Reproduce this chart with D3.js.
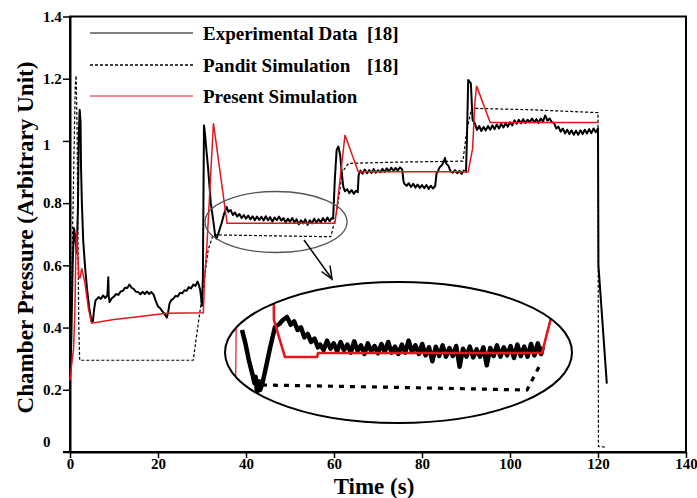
<!DOCTYPE html>
<html><head><meta charset="utf-8">
<script src="https://cdn.jsdelivr.net/npm/d3@7"></script>
<style>html,body{margin:0;padding:0;background:#fff}svg{display:block}</style>
</head><body><svg id="c" width="697" height="498"></svg>
<script>
const xTicks=[0,20,40,60,80,100,120,140];
const yTicks=[0,0.2,0.4,0.6,0.8,1,1.2,1.4];
const yTickLabels=["0","0.2","0.4","0.6","0.8","1","1.2","1.4"];
const legendLabels=["Experimental Data","Pandit Simulation","Present Simulation"];
const legendRefs=["[18]","[18]",""];
const xTitle="Time (s)";
const yTitle="Chamber Pressure (Arbitrary Unit)";

const experimental=[
[0,0.24],[0.3,0.36],[0.6,0.6],[0.9,0.72],[1.2,0.69],[1.5,0.64],[1.8,0.78],[2.0,1.02],[2.2,1.1],[2.4,1.06],[2.5,0.92],[2.7,0.8],[3.0,0.68],[3.4,0.6],[3.9,0.52],[4.4,0.46],[4.9,0.42],[5.2,0.42],[5.5,0.46],[5.8,0.488],
[6.0,0.490],[6.5,0.498],[7.0,0.492],[7.5,0.503],[8.0,0.495],[8.5,0.504],[8.7,0.562],[8.8,0.500],[9.0,0.482],[9.5,0.494],[10.0,0.500],[10.5,0.508],[11.0,0.505],[11.5,0.516],[12.0,0.518],[12.5,0.528],[13.0,0.527],[13.5,0.538],[14.0,0.528],[14.5,0.524],[15.0,0.515],[15.5,0.514],[16.0,0.507],[16.5,0.515],[17.0,0.508],[17.5,0.516],[18.0,0.508],[18.5,0.514],[19.0,0.506],[19.5,0.485],[20.0,0.468],[20.5,0.462],[21.0,0.452],[21.5,0.444],[22.0,0.432],[22.3,0.448],[22.6,0.476],[23.0,0.488],[23.5,0.493],[24.0,0.502],[24.5,0.500],[25.0,0.512],[25.5,0.510],[26.0,0.520],[26.5,0.518],[27.0,0.530],[27.5,0.526],[28.0,0.538],[28.5,0.534],[29.0,0.548],[29.3,0.536],[29.6,0.52],[30.0,0.47],
[30.2,0.56],[30.45,1.05],[30.7,1.02],[31.0,0.97],[31.4,0.91],[32.0,0.80],[32.6,0.74],[33.0,0.695],[33.3,0.686],[33.8,0.706],[34.5,0.738],[35.0,0.765],[35.6,0.788],
[36.0,0.772],[36.5,0.778],[37.0,0.762],[37.5,0.770],[38.0,0.757],[38.5,0.765],[39.0,0.752],[39.5,0.762],[40.0,0.750],[40.5,0.760],[41.0,0.748],[41.5,0.758],[42.0,0.745],[42.5,0.757],[43.0,0.746],[43.5,0.756],[44.0,0.744],[44.5,0.758],[45.0,0.745],[45.5,0.755],[46.0,0.740],[46.5,0.754],[47.0,0.745],[47.5,0.757],[48.0,0.744],[48.5,0.752],[49.0,0.738],[49.5,0.750],[50.0,0.740],[50.5,0.752],[51.0,0.738],[51.5,0.748],[52.0,0.732],[52.5,0.745],[53.0,0.735],[53.5,0.748],[54.0,0.730],[54.5,0.745],[55.0,0.735],[55.5,0.750],[56.0,0.737],[56.5,0.748],[57.0,0.738],[57.5,0.752],[58.0,0.740],[58.5,0.754],[59.0,0.742],[59.5,0.752],[59.8,0.750],
[60.2,0.88],[60.6,0.971],[61.0,0.982],[61.4,0.955],[61.75,0.90],[62.1,0.853],[62.5,0.838],[63.0,0.845],[63.5,0.832],[64.0,0.842],[64.5,0.830],[65.0,0.840],[65.4,0.835],[65.6,0.89],[66.0,0.905],[66.5,0.895],[67.0,0.908],[67.5,0.896],[68.0,0.906],[68.5,0.897],[69.0,0.910],[69.5,0.898],[70.0,0.906],[70.5,0.899],[71.0,0.910],[71.5,0.900],[72.0,0.912],[72.5,0.902],[73.0,0.914],[73.5,0.904],[74.0,0.913],[74.5,0.905],[75.0,0.915],[75.5,0.908],[75.8,0.870],[76.0,0.862],[76.5,0.856],[77.0,0.864],[77.5,0.852],[78.0,0.862],[78.5,0.850],[79.0,0.860],[79.5,0.849],[80.0,0.858],[80.5,0.848],[81.0,0.858],[81.5,0.846],[82.0,0.856],[82.5,0.847],[83.0,0.855],[83.3,0.895],[83.7,0.905],[84.0,0.915],[84.5,0.922],[85.0,0.935],[85.2,0.945],[85.5,0.928],[86.0,0.920],[86.5,0.902],[87.0,0.898],[87.5,0.906],[88.0,0.896],[88.5,0.904],[89.0,0.894],[89.5,0.905],[90.0,0.900],
[90.2,1.00],[90.5,1.196],[91.1,1.185],[91.5,1.067],[92.0,1.057],[92.5,1.035],[93.0,1.048],[93.5,1.032],[94.0,1.045],[94.5,1.034],[95.0,1.048],[95.5,1.036],[96.0,1.050],[96.5,1.038],[97.0,1.053],[97.5,1.040],[98.0,1.055],[98.5,1.043],[99.0,1.057],[99.5,1.046],[100.0,1.060],[100.5,1.050],[101.0,1.066],[101.5,1.055],[102.0,1.068],[102.5,1.057],[103.0,1.070],[103.5,1.058],[104.0,1.068],[104.5,1.060],[105.0,1.072],[105.5,1.060],[106.0,1.070],[106.5,1.058],[107.0,1.072],[107.5,1.062],[108.0,1.082],[108.5,1.065],[109.0,1.072],[109.5,1.060],[110.0,1.058],[110.5,1.040],[111.0,1.046],[111.5,1.030],[112.0,1.040],[112.5,1.024],[113.0,1.036],[113.5,1.022],[114.0,1.034],[114.5,1.020],[115.0,1.033],[115.5,1.020],[116.0,1.034],[116.5,1.022],[117.0,1.036],[117.5,1.024],[118.0,1.038],[118.5,1.025],[119.0,1.040],[119.5,1.028],[120.0,1.040],[120.1,0.60],[122.0,0.22]
];

const pandit=[
[0,0.25],[0.3,0.45],[0.6,0.72],[0.9,0.95],[1.2,1.18],[1.4,1.21],[1.6,1.05],[1.8,0.7],[2.0,0.4],[2.2,0.295],[28.0,0.295],[30.3,0.53],[31.4,0.65],[32.5,0.698],[59.3,0.692],[60.6,0.77],[61.9,0.9],[63.3,0.928],[75,0.932],[89.3,0.935],[90.2,1.035],[91.3,1.105],[105,1.1],[120.0,1.091],[120.1,0.018],[122,0.015]
];

const present=[
[0,0.23],[0.4,0.285],[0.8,0.33],[1.1,0.446],[1.3,0.62],[1.5,0.71],[1.7,0.66],[2.0,0.56],[2.3,0.56],[2.65,0.59],[3.0,0.57],[3.4,0.543],[4.2,0.46],[4.9,0.414],[10,0.426],[15,0.434],[22,0.446],[30.3,0.448],[30.6,0.56],[31.1,0.66],[32.6,1.057],[35.7,0.735],[60.2,0.735],[60.6,0.778],[62.5,1.019],[65.5,0.901],[90.5,0.901],[91.5,0.975],[92.0,1.12],[92.4,1.177],[95.5,1.059],[120.1,1.059]
];

const insetExperimental=[
[31.5,0.755],[31.8,0.735],[32.1,0.71],[32.4,0.69],[32.6,0.675],[32.7,0.685],[32.82,0.662],[33.0,0.678],[33.1,0.665],[33.3,0.675],[33.5,0.69],[34.0,0.73],[34.41,0.7595],[34.8,0.764],[35.1,0.770],[35.47,0.7745],[35.8,0.763],[36.1,0.768],[36.4,0.755],[36.7,0.759],[37.0,0.744],[37.3,0.749],[37.6,0.737],[37.9,0.742],[38.2,0.729],
[38.4,0.733],[38.7,0.725],[39.0,0.739],[39.3,0.727],[39.6,0.735],[39.9,0.723],[40.2,0.737],[40.5,0.725],[40.8,0.733],[41.1,0.721],[41.4,0.738],[41.7,0.724],[42.0,0.732],[42.3,0.719],[42.6,0.735],[42.9,0.723],[43.2,0.731],[43.5,0.720],[43.8,0.734],[44.1,0.722],[44.4,0.737],[44.7,0.721],[45.0,0.730],[45.3,0.719],[45.6,0.733],[45.9,0.721],[46.2,0.739],[46.5,0.722],[46.8,0.732],[47.1,0.719],[47.4,0.734],[47.7,0.717],[48.0,0.729],[48.3,0.708],[48.6,0.730],[48.9,0.716],[49.2,0.732],[49.5,0.715],[49.8,0.728],[50.1,0.716],[50.4,0.731],[50.7,0.700],[51.0,0.727],[51.3,0.715],[51.6,0.730],[51.9,0.714],[52.2,0.726],[52.5,0.715],[52.8,0.729],[53.1,0.702],[53.4,0.728],[53.7,0.716],[54.0,0.732],[54.3,0.715],[54.6,0.729],[54.9,0.717],[55.2,0.731],[55.5,0.713],[55.8,0.733],[56.1,0.716],[56.4,0.730],[56.7,0.715],[57.0,0.734],[57.3,0.717],[57.6,0.735],[57.9,0.719],[58.05,0.730]
];
const insetPandit=[[33.26,0.6725],[45,0.669],[56.65,0.665],[57.79,0.7025]];
const insetPresentRise=[[30.9,0.6],[31.06,0.9]];
const insetPresent=[[34.24,0.9],[34.32,0.77],[35.29,0.7145],[38.12,0.7145],[38.21,0.7205],[57.97,0.7205],[58.76,0.773],[59.21,0.9]];

const FONT="'Liberation Serif','Times New Roman',serif";
const RED="#e3161b";
const svg=d3.select("#c");
const x=d3.scaleLinear().domain([0,140]).range([70,686]);
const y=d3.scaleLinear().domain([0,1.4]).range([452,16.5]);
const line=d3.line().x(d=>x(d[0])).y(d=>y(d[1]));

// frame
svg.append("rect").attr("x",70).attr("y",16.5).attr("width",616).attr("height",435.5)
  .attr("fill","none").attr("stroke","#000").attr("stroke-width",2);

// axes
const gy=svg.append("g").attr("transform","translate(70,0)")
  .call(d3.axisLeft(y).tickValues(yTicks).tickSize(7).tickSizeOuter(0).tickFormat((d,i)=>yTickLabels[i]));
gy.select(".domain").attr("stroke-width",2);
gy.selectAll(".tick line").attr("stroke-width",1.5);
gy.selectAll(".tick text").attr("x",-27).attr("text-anchor","start")
  .attr("font-family",FONT).attr("font-weight","bold").attr("font-size",15).attr("fill","#000")
  .attr("dy",d=>d===0?"-0.35em":(d===1?"0.55em":"0.32em"));

const gx=svg.append("g").attr("transform","translate(0,452)")
  .call(d3.axisBottom(x).tickValues(xTicks).tickSize(6).tickSizeOuter(0).tickFormat(d3.format("d")));
gx.select(".domain").attr("stroke-width",2);
gx.selectAll(".tick line").attr("stroke-width",1.5);
gx.selectAll(".tick text").attr("y",6)
  .attr("font-family",FONT).attr("font-weight","bold").attr("font-size",15).attr("fill","#000");
svg.append("line").attr("x1",63).attr("x2",70).attr("y1",452).attr("y2",452).attr("stroke","#000").attr("stroke-width",2);

// titles
svg.append("text").attr("x",374).attr("y",494).attr("text-anchor","middle")
  .attr("font-family",FONT).attr("font-weight","bold").attr("font-size",23).text(xTitle);
const yt=svg.append("text").attr("transform","translate(33,237.5) rotate(-90)").attr("text-anchor","middle")
  .attr("font-family",FONT).attr("font-weight","bold").attr("font-size",23).text(yTitle);
const ytLen=yt.node().getComputedTextLength();
if(ytLen>0) yt.attr("font-size",23*352/ytLen);

// main series
svg.append("path").datum(experimental).attr("d",line).attr("fill","none")
  .attr("stroke","#000").attr("stroke-width",2).attr("stroke-linejoin","round");
svg.append("path").datum(pandit).attr("d",line).attr("fill","none")
  .attr("stroke","#000").attr("stroke-width",1.2).attr("stroke-dasharray","3,2");
svg.append("path").datum(present).attr("d",line).attr("fill","none")
  .attr("stroke",RED).attr("stroke-width",1.5);

// legend
const legY=[33,65,96];
const legStyles=[{s:"#000",w:1,d:null},{s:"#000",w:1.6,d:"3,2"},{s:RED,w:1,d:null}];
legendLabels.forEach((lab,i)=>{
  svg.append("line").attr("x1",90).attr("x2",193).attr("y1",legY[i]).attr("y2",legY[i])
    .attr("stroke",legStyles[i].s).attr("stroke-width",legStyles[i].w)
    .attr("stroke-dasharray",legStyles[i].d);
  svg.append("text").attr("x",203).attr("y",legY[i]+6.5)
    .attr("font-family",FONT).attr("font-weight","bold").attr("font-size",19).text(lab);
  if(legendRefs[i]) svg.append("text").attr("x",367).attr("y",legY[i]+6.5)
    .attr("font-family",FONT).attr("font-weight","bold").attr("font-size",19).text(legendRefs[i]);
});

// small ellipse and arrow
svg.append("ellipse").attr("cx",276).attr("cy",222).attr("rx",71).attr("ry",30.5)
  .attr("fill","none").attr("stroke","#555").attr("stroke-width",1.3);
svg.append("line").attr("x1",304).attr("y1",240).attr("x2",332).attr("y2",279)
  .attr("stroke","#000").attr("stroke-width",1.5);
svg.append("path").attr("d","M321.5,271.5 L332,279 L330,265.5").attr("fill","none")
  .attr("stroke","#000").attr("stroke-width",1.5);

// inset
const E={cx:398.5,cy:352.5,rx:173.5,ry:70.5};
svg.append("defs").append("clipPath").attr("id","ec").append("ellipse")
  .attr("cx",E.cx).attr("cy",E.cy).attr("rx",E.rx).attr("ry",E.ry);
const xi=d3.scaleLinear().domain([30,60]).range([225,565]);
const yi=d3.scaleLinear().domain([0.65,0.80]).range([400,300]);
const lineI=d3.line().x(d=>xi(d[0])).y(d=>yi(d[1]));
const gi=svg.append("g").attr("clip-path","url(#ec)");
gi.append("path").datum(insetExperimental).attr("d",lineI).attr("fill","none")
  .attr("stroke","#000").attr("stroke-width",4.5).attr("stroke-linejoin","round");
gi.append("path").datum(insetPandit).attr("d",lineI).attr("fill","none")
  .attr("stroke","#000").attr("stroke-width",3.2).attr("stroke-dasharray","5,6");
gi.append("path").datum(insetPresentRise).attr("d",lineI).attr("fill","none")
  .attr("stroke",RED).attr("stroke-width",1.2);
gi.append("path").datum(insetPresent).attr("d",lineI).attr("fill","none")
  .attr("stroke",RED).attr("stroke-width",2.6);
svg.append("ellipse").attr("cx",E.cx).attr("cy",E.cy).attr("rx",E.rx).attr("ry",E.ry)
  .attr("fill","none").attr("stroke","#000").attr("stroke-width",2);
</script></body></html>
